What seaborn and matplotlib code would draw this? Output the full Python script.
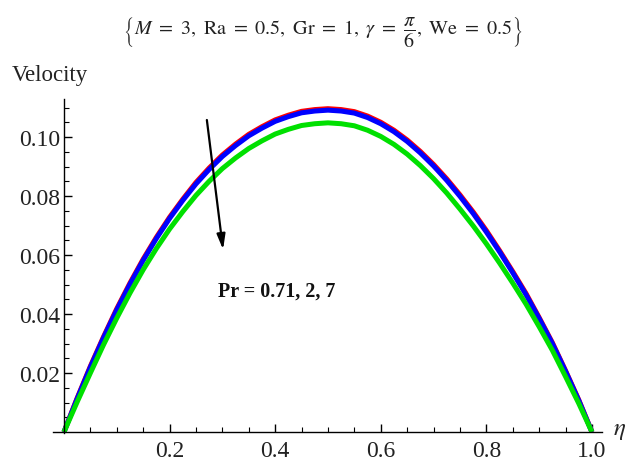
import matplotlib
matplotlib.use("Agg")
import matplotlib.pyplot as plt
import numpy as np
import pandas as pd
import seaborn as sns

# Velocity profiles across the channel for three Prandtl numbers
eta = [0.000, 0.025, 0.050, 0.075, 0.100, 0.125, 0.150, 0.175, 0.200, 0.225,
       0.250, 0.275, 0.300, 0.325, 0.350, 0.375, 0.400, 0.425, 0.450, 0.475,
       0.500, 0.525, 0.550, 0.575, 0.600, 0.625, 0.650, 0.675, 0.700, 0.725,
       0.750, 0.775, 0.800, 0.825, 0.850, 0.875, 0.900, 0.925, 0.950, 0.975,
       1.000]
vel_pr071 = [0.0, 0.0115, 0.0223, 0.0323, 0.0418, 0.0505, 0.0586, 0.0660, 0.0728,
             0.0789, 0.0846, 0.0895, 0.0939, 0.0976, 0.1009, 0.1035, 0.1058,
             0.1074, 0.1087, 0.1093, 0.1096, 0.1093, 0.1086, 0.1071, 0.1050,
             0.1023, 0.0990, 0.0951, 0.0907, 0.0858, 0.0804, 0.0746, 0.0683,
             0.0615, 0.0544, 0.0470, 0.0388, 0.0303, 0.0208, 0.0109, 0.0]
vel_pr2 = [0.0, 0.0113, 0.0220, 0.0320, 0.0414, 0.0501, 0.0582, 0.0656, 0.0724,
           0.0785, 0.0841, 0.0890, 0.0934, 0.0971, 0.1004, 0.1030, 0.1053,
           0.1069, 0.1082, 0.1088, 0.1091, 0.1088, 0.1081, 0.1066, 0.1045,
           0.1018, 0.0985, 0.0946, 0.0902, 0.0853, 0.0799, 0.0741, 0.0678,
           0.0611, 0.0540, 0.0466, 0.0385, 0.0300, 0.0206, 0.0107, 0.0]
vel_pr7 = [0.0, 0.0102, 0.0200, 0.0296, 0.0386, 0.0471, 0.0550, 0.0622, 0.0688,
           0.0747, 0.0802, 0.0850, 0.0893, 0.0929, 0.0961, 0.0987, 0.1010,
           0.1026, 0.1039, 0.1045, 0.1048, 0.1045, 0.1038, 0.1023, 0.1002,
           0.0975, 0.0942, 0.0903, 0.0859, 0.0810, 0.0756, 0.0699, 0.0638,
           0.0573, 0.0505, 0.0434, 0.0357, 0.0277, 0.0188, 0.0097, 0.0]
pr_labels = ["0.71", "2", "7"]
line_colors = ["#ff0000", "#0000ff", "#00e000"]

x_ticks = [0.2, 0.4, 0.6, 0.8, 1.0]
y_ticks = [0.02, 0.04, 0.06, 0.08, 0.10]

df = pd.concat([
    pd.DataFrame({"eta": eta, "velocity": v, "Pr": p})
    for v, p in zip([vel_pr071, vel_pr2, vel_pr7], pr_labels)
])

sns.set_style("white")
plt.rcParams["font.family"] = ["Liberation Serif", "DejaVu Serif"]
plt.rcParams["mathtext.fontset"] = "stix"

fig = plt.figure(figsize=(6.27, 4.64), dpi=100)
ax = fig.add_axes([0.0845, 0.0636, 0.8756, 0.721])

sns.lineplot(data=df, x="eta", y="velocity", hue="Pr", hue_order=pr_labels,
             palette=line_colors, linewidth=3.6, legend=False, ax=ax,
             solid_capstyle="butt", solid_joinstyle="round")

ax.set_xlim(-0.0208, 1.019)
ax.set_ylim(-0.0005, 0.1129)

for side in ["top", "right"]:
    ax.spines[side].set_visible(False)
ax.spines["left"].set_position(("data", 0))
ax.spines["bottom"].set_position(("data", 0))
for side in ["left", "bottom"]:
    ax.spines[side].set_color("black")
    ax.spines[side].set_linewidth(1.0)

ax.set_xticks(x_ticks)
ax.set_xticklabels([f"{t:.1f}" for t in x_ticks])
ax.set_yticks(y_ticks)
ax.set_yticklabels([f"{t:.2f}" for t in y_ticks])
ax.set_xticks(np.arange(0.05, 1.0, 0.05), minor=True)
ax.set_yticks(np.arange(0.005, 0.1126, 0.005), minor=True)
ax.tick_params(axis="both", which="both", bottom=True, left=True,
               top=False, right=False)
ax.tick_params(axis="both", which="major", direction="in", length=6, width=1,
               color="black", labelsize=17, labelcolor="#222222")
ax.tick_params(axis="both", which="minor", direction="in", length=3.5, width=0.8,
               color="black")
ax.tick_params(axis="x", which="major", pad=6)
ax.tick_params(axis="y", which="major", pad=3)
ax.set_xlabel("")
ax.set_ylabel("")

# Direction of increasing Pr
ax.annotate("", xy=(0.302, 0.0609), xytext=(0.270, 0.1067),
            arrowprops=dict(arrowstyle="-|>,head_length=0.9,head_width=0.25",
                            color="black", lw=1.6))
ax.text(0.292, 0.0478, "Pr = 0.71, 2, 7", fontsize=14.5, fontweight="bold",
        ha="left", va="center", color="#111111")

ax.text(1.04, 0.0008, r"$\eta$", fontsize=18, ha="left", va="center",
        clip_on=False)
fig.text(0.019, 0.838, "Velocity", fontsize=16.5, ha="left", va="center",
         color="#222222")
fig.text(0.515, 0.931,
         r"$\left\{M\ =\ 3,\ \mathrm{Ra}\ =\ 0.5,\ \mathrm{Gr}\ =\ 1,"
         r"\ \gamma\ =\ \dfrac{\pi}{6},\ \mathrm{We}\ =\ 0.5\right\}$",
         fontsize=14.5, ha="center", va="center", color="#222222")

fig.savefig("out.png", dpi=100, facecolor="white")
